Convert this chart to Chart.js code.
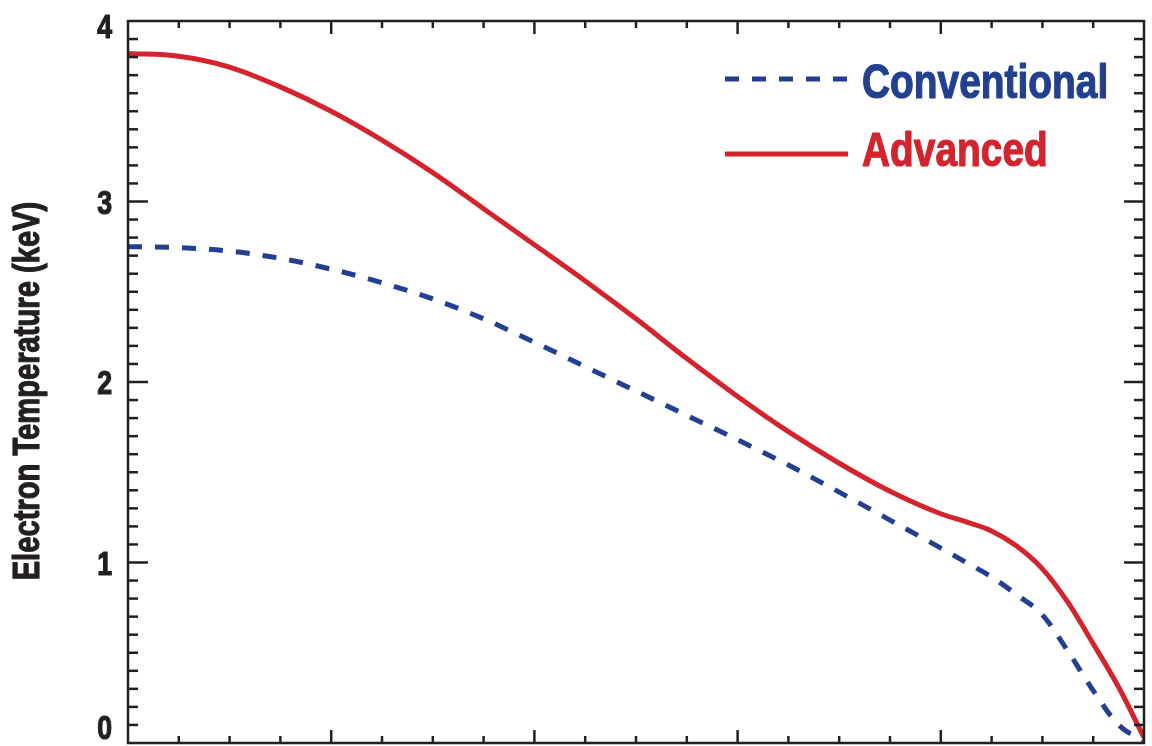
<!DOCTYPE html>
<html>
<head>
<meta charset="utf-8">
<script src="https://cdn.jsdelivr.net/npm/chart.js@4.4.0/dist/chart.umd.min.js"></script>
<style>
  html, body { margin: 0; padding: 0; background: #fff; }
  canvas { display: block; }
</style>
</head>
<body>
<canvas id="tempChart" width="1152" height="746"></canvas>
<script>
// normalised radius (x axis has no printed labels in the figure)
const radius = [0, 0.05, 0.1, 0.15, 0.2, 0.25, 0.3, 0.35, 0.4, 0.45, 0.5, 0.55, 0.6, 0.65, 0.7, 0.75, 0.8, 0.825, 0.85, 0.875, 0.9, 0.925, 0.95, 0.975, 1.0];
const advanced = [3.82, 3.805, 3.745, 3.635, 3.50, 3.34, 3.16, 2.96, 2.76, 2.56, 2.35, 2.13, 1.92, 1.725, 1.55, 1.395, 1.27, 1.225, 1.175, 1.09, 0.965, 0.78, 0.55, 0.31, 0.03];
const conventional = [2.75, 2.745, 2.725, 2.685, 2.625, 2.55, 2.46, 2.35, 2.22, 2.085, 1.95, 1.815, 1.68, 1.54, 1.39, 1.235, 1.08, 1.00, 0.92, 0.82, 0.71, 0.51, 0.29, 0.10, 0.01];
const yTickLabels = ['0', '1', '2', '3', '4'];
const seriesNames = ['Conventional', 'Advanced'];
const yTitle = 'Electron Temperature (keV)';

const BLUE = '#22408f';
const RED = '#d3232d';
const INK = '#231f20';
const FONT = "'Liberation Sans', Arial, sans-serif";
const NARROW = 0.81; // horizontal squeeze to get a Helvetica-Narrow look

const toPoints = ys => radius.map((r, i) => ({ x: r, y: ys[i] }));

function narrowText(ctx, text, x, y, align, rot) {
  ctx.save();
  ctx.translate(x, y);
  if (rot) ctx.rotate(rot);
  ctx.scale(NARROW, 1);
  ctx.textAlign = align;
  ctx.textBaseline = 'alphabetic';
  ctx.strokeStyle = ctx.fillStyle;
  ctx.lineWidth = 1.2; // a touch heavier, like the original type
  ctx.lineJoin = 'round';
  ctx.strokeText(text, 0, 0);
  ctx.fillText(text, 0, 0);
  ctx.restore();
}

// box, inward ticks on all four sides, texts and the legend
const framePlugin = {
  id: 'framePlugin',
  afterDatasetsDraw(chart) {
    const { ctx, chartArea: a, scales: { x, y } } = chart;
    const seg = (x1, y1, x2, y2) => { ctx.beginPath(); ctx.moveTo(x1, y1); ctx.lineTo(x2, y2); ctx.stroke(); };
    ctx.save();
    ctx.strokeStyle = INK;
    ctx.lineWidth = 2.5;
    ctx.strokeRect(a.left, a.top, a.right - a.left, a.bottom - a.top);

    // x ticks: major every 0.2, minor every 0.05
    for (let i = 1; i < 20; i++) {
      const px = x.getPixelForValue(i * 0.05);
      const len = i % 4 === 0 ? 13 : 7;
      seg(px, a.bottom, px, a.bottom - len);
      seg(px, a.top, px, a.top + len);
    }
    // y ticks: major every 1, minor every 0.1
    for (let i = 1; i < 40; i++) {
      const py = y.getPixelForValue(i * 0.1);
      const len = i % 10 === 0 ? 20 : 10;
      seg(a.left, py, a.left + len, py);
      seg(a.right, py, a.right - len, py);
    }

    // y tick labels
    ctx.fillStyle = INK;
    ctx.font = 'bold 33px ' + FONT;
    yTickLabels.forEach(t => {
      let py = y.getPixelForValue(Number(t));
      py = Math.min(Math.max(py, 26), 727);
      narrowText(ctx, t, 112, py + 12, 'right');
    });

    // y axis title
    ctx.fillStyle = INK;
    ctx.font = 'bold 36px ' + FONT;
    narrowText(ctx, yTitle, 39, 391, 'center', -Math.PI / 2);

    // legend
    ctx.font = 'bold 48px ' + FONT;
    const rows = [{ ly: 79, ty: 98 }, { ly: 154, ty: 166 }];
    chart.data.datasets.forEach((ds, i) => {
      ctx.strokeStyle = ds.borderColor;
      ctx.lineWidth = ds.borderWidth;
      ctx.setLineDash(ds.borderDash || []);
      seg(725, rows[i].ly, 848, rows[i].ly);
      ctx.setLineDash([]);
      ctx.fillStyle = ds.borderColor;
      narrowText(ctx, ds.label, 862, rows[i].ty, 'left');
    });
    ctx.restore();
  }
};

const ctx = document.getElementById('tempChart').getContext('2d');
const tempChart = new Chart(ctx, {
  type: 'line',
  data: {
    datasets: [
      {
        label: seriesNames[0],
        data: toPoints(conventional),
        borderColor: BLUE,
        borderWidth: 5,
        borderDash: [14, 13],
        pointRadius: 0,
        cubicInterpolationMode: 'monotone'
      },
      {
        label: seriesNames[1],
        data: toPoints(advanced),
        borderColor: RED,
        borderWidth: 5,
        pointRadius: 0,
        cubicInterpolationMode: 'monotone'
      }
    ]
  },
  options: {
    responsive: false,
    animation: false,
    devicePixelRatio: 1,
    layout: { padding: { top: 21, right: 8, bottom: 0, left: 0 } },
    plugins: { legend: { display: false }, tooltip: { enabled: false } },
    scales: {
      x: {
        type: 'linear', min: 0, max: 1,
        grid: { display: false }, border: { display: false },
        ticks: { display: false },
        afterFit: s => { s.height = 3; }
      },
      y: {
        min: 0, max: 4,
        grid: { display: false }, border: { display: false },
        ticks: { display: false },
        afterFit: s => { s.width = 128; }
      }
    }
  },
  plugins: [framePlugin]
});
</script>
</body>
</html>
